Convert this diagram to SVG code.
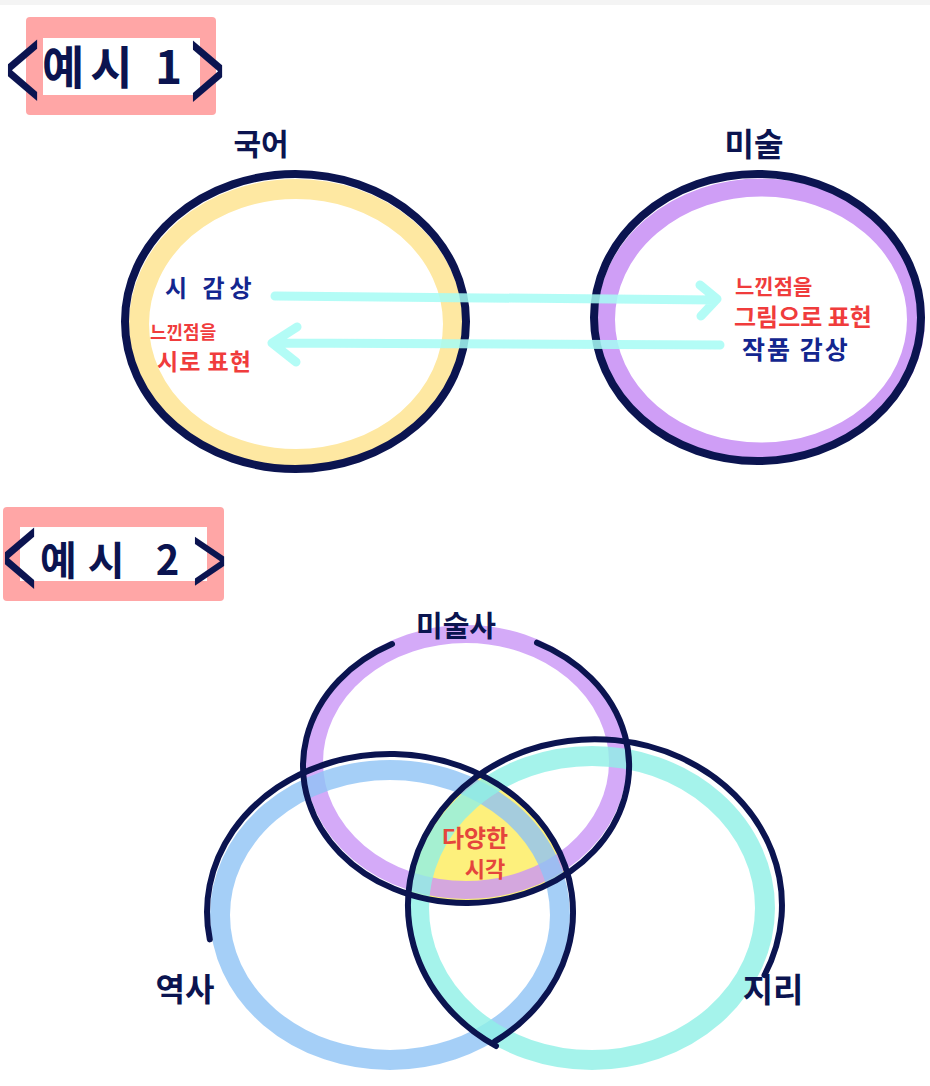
<svg xmlns="http://www.w3.org/2000/svg" width="930" height="1086" viewBox="0 0 930 1086">
<style>
.t{font-family:"Noto Sans CJK KR","Noto Sans",sans-serif;font-weight:700}
.br{font-family:"Liberation Sans",Arial,sans-serif;font-weight:400;font-size:60px;fill:#0b1450}
.nv{fill:#0b1450}
.bl{fill:#13268f}
.rd{fill:#f03c3c}
.ink{fill:none;stroke:#0b1450;stroke-linecap:round}
.band{fill:none}
.arrow{fill:none;stroke:#a6fbf4;stroke-width:9;stroke-linecap:round;stroke-linejoin:round;opacity:0.85}
</style>
<defs>
<clipPath id="cBlue"><ellipse cx="390" cy="912" rx="183" ry="158"/></clipPath>
<clipPath id="cCyan"><ellipse cx="595" cy="905" rx="187" ry="166"/></clipPath>
</defs>
<rect x="0" y="0" width="930" height="1086" fill="#ffffff"/>
<rect x="0" y="0" width="930" height="5" fill="#f4f4f4"/>

<g id="title1">
<rect x="26" y="17" width="190" height="98" rx="4" fill="#ffa6a6"/>
<rect x="43" y="38" width="157" height="57" fill="#ffffff"/>
<text class="br" transform="translate(5,110) scale(1,2)">&lt;</text>
<text class="t nv" x="42" y="84" font-size="46" font-weight="500" letter-spacing="6">예시 1</text>
<text class="br" transform="translate(190,111) scale(1,2)">&gt;</text>
</g>

<g id="node-korean">
<ellipse class="band" cx="296" cy="324" rx="157" ry="135" stroke="#fee8a2" stroke-width="20"/>
<ellipse class="ink" cx="295.5" cy="321.5" rx="170.5" ry="147.5" stroke-width="8"/>
<text class="t nv" x="261" y="155" font-size="30" text-anchor="middle">국어</text>
<text class="t bl" x="165" y="297" font-size="24" letter-spacing="5">시 감상</text>
<text class="t rd" x="150" y="339" font-size="18">느낀점을</text>
<text class="t rd" x="157" y="370" font-size="23" letter-spacing="1">시로 표현</text>
</g>

<g id="node-art">
<ellipse class="band" cx="761" cy="319.5" rx="155" ry="132" stroke="#cf9ef6" stroke-width="18"/>
<ellipse class="ink" cx="757.5" cy="317.5" rx="163.5" ry="143.5" stroke-width="8"/>
<text class="t nv" x="754" y="156" font-size="32" text-anchor="middle">미술</text>
<text class="t rd" x="735" y="294" font-size="21">느낀점을</text>
<text class="t rd" x="734" y="326" font-size="24">그림으로 표현</text>
<text class="t bl" x="742" y="359" font-size="25" letter-spacing="2">작품 감상</text>
</g>

<g id="connectors">
<path class="arrow" d="M275,296 L716,300 M700,285 L717,299 L701,316"/>
<path class="arrow" d="M720,345 L273,343 M297,327 L272,343 L296,362"/>
</g>

<g id="title2">
<rect x="3" y="507" width="221" height="94" rx="4" fill="#ffa6a6"/>
<rect x="20" y="527" width="187" height="54" fill="#ffffff"/>
<text class="br" transform="translate(2,598) scale(1,2)">&lt;</text>
<text class="t nv" x="40" y="575" font-size="40" font-weight="500" letter-spacing="11">예시 2</text>
<text class="br" transform="translate(192,593) scale(1,1.6)">&gt;</text>
</g>

<g id="center-intersection">
<g clip-path="url(#cBlue)"><g clip-path="url(#cCyan)">
<ellipse cx="466" cy="766" rx="163" ry="137" fill="#fdf07c"/>
</g></g>
</g>

<g id="node-arthistory">
<ellipse class="band" cx="466" cy="762" rx="152" ry="128" stroke="#c995f6" stroke-width="18" opacity="0.8"/>
</g>
<g id="node-history">
<ellipse class="band" cx="390" cy="915" rx="170" ry="145" stroke="#8fc3f5" stroke-width="20" opacity="0.8"/>
</g>
<g id="node-geography">
<ellipse class="band" cx="592" cy="908" rx="173" ry="152" stroke="#8ff0e6" stroke-width="20" opacity="0.8"/>
</g>

<g id="venn-outlines">
<path class="ink" stroke-width="6" d="M537,642.7 A163,137 0 1 1 392,644"/>
<path class="ink" stroke-width="6" d="M209.8,939.4 A183,158 0 1 1 495,1041.4"/>
<path class="ink" stroke-width="6" d="M496,1046 A187,166 0 1 1 764.5,975.2"/>
</g>

<g id="venn-labels">
<text class="t nv" x="456" y="637" font-size="29" text-anchor="middle">미술사</text>
<text class="t nv" x="185" y="1001" font-size="32" text-anchor="middle">역사</text>
<text class="t nv" x="773" y="1002" font-size="33" text-anchor="middle">지리</text>
<text class="t" x="475" y="847" font-size="24" text-anchor="middle" fill="#e5453c">다양한</text>
<text class="t" x="485" y="877" font-size="22" text-anchor="middle" fill="#e5453c">시각</text>
</g>
</svg>
